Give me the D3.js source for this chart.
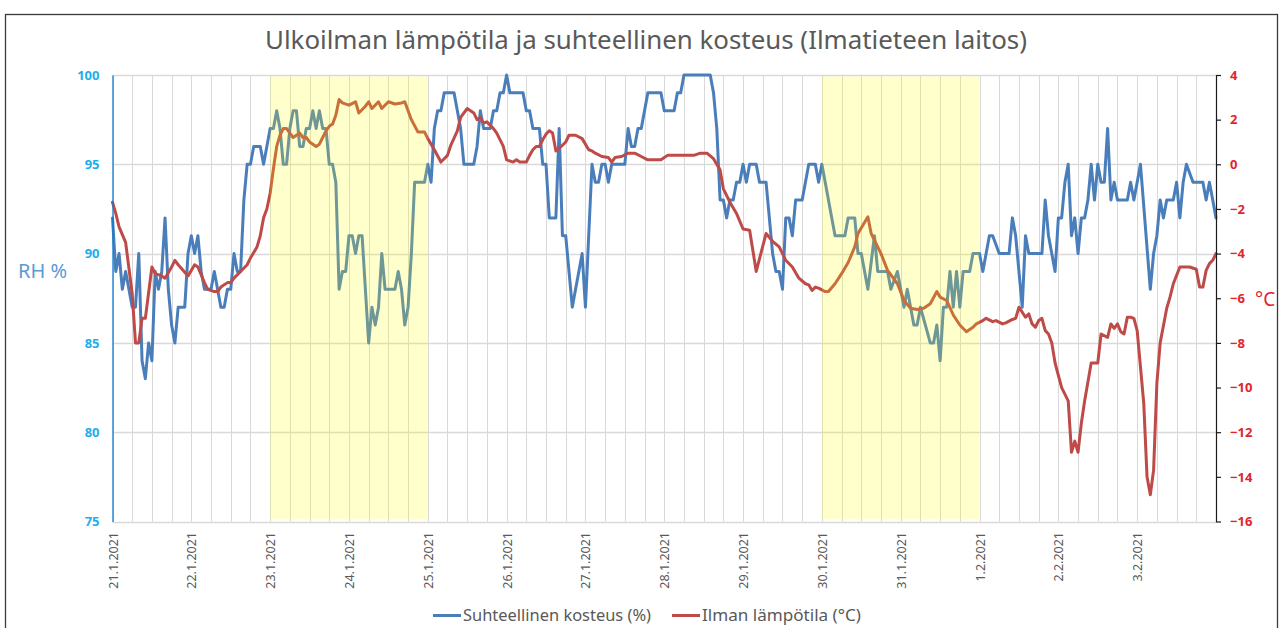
<!DOCTYPE html>
<html>
<head>
<meta charset="utf-8">
<script src="https://cdn.jsdelivr.net/npm/d3@7"></script>
<style>
  body { margin: 0; background: #fff; }
  svg { display: block; }
  text { font-family: 'Noto Sans', 'Open Sans', sans-serif; }
</style>
</head>
<body>
<svg id="chart" width="1286" height="628"></svg>
<script>
// Observation period: hourly values, hour offsets counted from 21.1.2021 00:00
const periodStart = new Date(2021, 0, 21);
const periodEnd = new Date(2021, 1, 4);

// Relative humidity (%), [hour, value]
const humidity = [
[0,92],[1,89],[2,90],[3,88],[4,89],[5,88],[6,87],[7,87],[8,90],[9,84],[10,83],[11,85],[12,84],[13,89],[14,88],[15,89],[16,92],[17,88],[18,86],[19,85],[20,87],[22,87],[23,90],[24,91],[25,90],[26,91],[27,89],[28,88],[30,88],[31,89],[32,88],[33,87],[34,87],[35,88],[36,88],[37,90],[38,89],[39,89],[40,93],[41,95],[42,95],[43,96],[45,96],[46,95],[47,96],[48,97],[49,97],[50,98],[51,97],[52,95],[53,95],[54,97],[55,98],[56,98],[57,96],[58,96],[59,97],[60,97],[61,98],[62,97],[63,98],[64,97],[65,97],[66,95],[67,95],[68,94],[69,88],[70,89],[71,89],[72,91],[73,91],[74,90],[75,91],[76,91],[77,88],[78,85],[79,87],[80,86],[81,87],[82,90],[83,88],[86,88],[87,89],[88,88],[89,86],[90,87],[91,90],[92,94],[95,94],[96,95],[97,94],[98,97],[99,98],[100,98],[101,99],[104,99],[105,98],[106,97],[107,95],[110,95],[111,96],[112,98],[113,97],[115,97],[116,98],[117,98],[118,99],[119,99],[120,100],[121,99],[125,99],[126,98],[127,98],[128,97],[130,97],[131,95],[132,95],[133,92],[135,92],[136,97],[137,91],[138,91],[140,87],[141,88],[142,89],[143,90],[144,87],[146,95],[147,94],[148,94],[149,95],[150,95],[151,94],[152,95],[156,95],[157,97],[158,96],[159,96],[160,97],[161,97],[163,99],[167,99],[168,98],[171,98],[172,99],[173,99],[174,100],[182,100],[183,99],[184,97],[185,93],[186,93],[187,92],[188,93],[189,93],[190,94],[191,94],[192,95],[193,94],[194,95],[196,95],[197,94],[198,94],[199,94],[200,92],[201,90],[202,89],[203,89],[204,88],[205,92],[206,92],[207,91],[208,93],[210,93],[212,95],[214,95],[215,94],[216,95],[220,91],[223,91],[224,92],[226,92],[227,90],[228,90],[230,88],[232,91],[233,89],[236,89],[237,88],[239,89],[241,87],[242,88],[244,86],[245,86],[246,87],[249,85],[250,85],[251,86],[252,84],[253,87],[254,87],[255,89],[256,87],[257,89],[258,87],[259,89],[261,89],[262,90],[264,90],[265,89],[267,91],[268,91],[270,90],[273,90],[274,92],[275,91],[277,87],[278,91],[279,90],[283,90],[284,93],[285,91],[287,89],[288,92],[289,92],[290,94],[291,95],[292,91],[293,92],[294,90],[295,92],[296,92],[297,93],[298,95],[299,93],[300,95],[301,94],[302,94],[303,97],[304,93],[305,94],[306,93],[309,93],[310,94],[311,93],[312,94],[313,95],[316,88],[317,90],[318,91],[319,93],[320,92],[321,93],[323,93],[324,94],[325,92],[326,94],[327,95],[329,94],[332,94],[333,93],[334,94],[335,93],[336,92]
];

// Air temperature (°C), [hour, value]
const temperature = [
[0,-1.7],[1,-2.2],[2,-2.8],[4,-3.5],[6,-5.8],[7,-8.0],[8,-8.0],[9,-6.9],[10,-6.9],[12,-4.6],[13,-4.9],[15,-5.0],[16,-5.1],[18,-4.6],[19,-4.3],[20,-4.5],[23,-5.0],[25,-4.5],[26,-4.6],[28,-5.3],[29,-5.6],[31,-5.7],[32,-5.7],[33,-5.5],[35,-5.3],[36,-5.3],[37,-5.1],[39,-4.8],[41,-4.5],[42,-4.2],[44,-3.7],[45,-3.2],[46,-2.4],[47,-2.0],[48,-1.3],[49,-0.2],[50,0.8],[51,1.3],[52,1.6],[53,1.6],[54,1.4],[55,1.2],[56,1.3],[57,1.4],[58,1.2],[59,1.2],[60,1.0],[61,0.9],[62,0.8],[63,0.9],[64,1.2],[65,1.5],[66,1.7],[67,1.8],[68,2.2],[69,2.9],[70,2.75],[72,2.65],[74,2.8],[75,2.3],[77,2.6],[78,2.8],[79,2.5],[81,2.8],[82,2.5],[84,2.8],[86,2.7],[88,2.75],[89,2.8],[91,2.0],[93,1.45],[95,1.45],[96,1.15],[98,0.65],[100,0.1],[101,0.25],[102,0.4],[103,0.85],[105,1.5],[106,2.1],[108,2.5],[109,2.4],[110,2.3],[111,2.0],[112,2.1],[113,1.85],[114,1.9],[116,1.6],[117,1.4],[119,0.8],[120,0.2],[122,0.1],[123,0.2],[124,0.1],[126,0.1],[127,0.4],[128,0.65],[129,0.8],[130,0.8],[131,1.1],[132,1.35],[133,1.5],[134,1.4],[135,0.6],[137,0.85],[138,1.0],[139,1.3],[141,1.3],[143,1.15],[145,0.65],[146,0.6],[147,0.5],[149,0.35],[151,0.3],[152,0.1],[153,0.3],[155,0.35],[157,0.5],[159,0.5],[161,0.35],[163,0.2],[167,0.2],[169,0.4],[177,0.4],[179,0.5],[181,0.5],[183,0.25],[185,-0.25],[186,-1.1],[188,-1.7],[190,-2.2],[192,-2.9],[194,-2.95],[196,-4.8],[199,-3.1],[201,-3.45],[203,-3.7],[205,-4.3],[207,-4.6],[209,-5.1],[211,-5.35],[212,-5.4],[213,-5.65],[214,-5.5],[215,-5.55],[217,-5.7],[218,-5.7],[220,-5.35],[222,-4.9],[224,-4.4],[226,-3.7],[227,-3.1],[230,-2.35],[231,-3.1],[234,-4.0],[236,-4.75],[239,-5.35],[241,-6.1],[243,-6.45],[245,-6.5],[247,-6.45],[249,-6.25],[251,-5.7],[252,-5.95],[254,-6.1],[256,-6.75],[258,-7.2],[260,-7.5],[262,-7.3],[263,-7.15],[265,-7.0],[266,-6.9],[268,-7.05],[269,-7.0],[271,-7.15],[272,-7.1],[274,-6.95],[275,-6.9],[276,-6.4],[278,-6.85],[279,-6.7],[280,-7.15],[281,-7.3],[282,-7.0],[283,-6.9],[284,-7.45],[285,-7.6],[286,-8.0],[287,-8.9],[289,-10.0],[291,-10.6],[292,-12.9],[293,-12.4],[294,-12.9],[295,-11.6],[296,-10.6],[298,-8.9],[300,-8.9],[301,-7.6],[303,-7.75],[304,-7.15],[305,-7.35],[306,-7.15],[307,-7.5],[308,-7.6],[309,-6.85],[310,-6.85],[311,-6.9],[312,-7.45],[314,-10.7],[315,-14.0],[316,-14.8],[317,-13.7],[318,-9.8],[319,-8.0],[321,-6.45],[322,-5.95],[323,-5.35],[325,-4.6],[328,-4.6],[330,-4.7],[331,-5.5],[332,-5.5],[333,-4.75],[334,-4.45],[335,-4.3],[336,-4.0]
];

// Highlighted periods (start day, end day)
const highlightPeriods = [
  [new Date(2021, 0, 23), new Date(2021, 0, 25)],
  [new Date(2021, 0, 30), new Date(2021, 1, 1)]
];

const humidityTicks = [75, 80, 85, 90, 95, 100];
const temperatureTicks = [-16, -14, -12, -10, -8, -6, -4, -2, 0, 2, 4];

const titleText = "Ulkoilman lämpötila ja suhteellinen kosteus (Ilmatieteen laitos)";
const humiditySeriesName = "Suhteellinen kosteus (%)";
const temperatureSeriesName = "Ilman lämpötila (°C)";

// ---------------------------------------------------------------
const svg = d3.select("#chart");
const plot = { left: 112.5, right: 1216, top: 75, bottom: 521.5 };
const blue = "#4a7ebb", red = "#be4b48", grid = "#d9d9d9", textGrey = "#595959";

const toTime = h => d3.timeHour.offset(periodStart, h);

const x = d3.scaleTime().domain([periodStart, periodEnd]).range([plot.left, plot.right]);
const yRH = d3.scaleLinear().domain([75, 100]).range([plot.bottom, plot.top]);
const yT = d3.scaleLinear().domain([-16, 4]).range([plot.bottom, plot.top]);

svg.append("rect").attr("width", 1286).attr("height", 628).attr("fill", "#fff");

// chart frame
svg.append("rect")
  .attr("x", 5.5).attr("y", 14.5).attr("width", 1272).attr("height", 640)
  .attr("fill", "none").attr("stroke", "#3a3a3a").attr("stroke-width", 1.3);

// title
svg.append("text")
  .attr("x", 646).attr("y", 49).attr("text-anchor", "middle")
  .attr("font-size", 25).attr("fill", textGrey)
  .attr("textLength", 762).attr("lengthAdjust", "spacingAndGlyphs")
  .text(titleText);

// gridlines
const gridG = svg.append("g");
gridG.selectAll("line.v")
  .data(d3.timeHour.every(6).range(periodStart, d3.timeHour.offset(periodEnd, 1)))
  .join("line").attr("class", "v")
  .attr("x1", d => Math.round(x(d)) + 0.5).attr("x2", d => Math.round(x(d)) + 0.5)
  .attr("y1", plot.top).attr("y2", plot.bottom)
  .attr("stroke", grid).attr("stroke-width", 1);
gridG.selectAll("line.h")
  .data(humidityTicks)
  .join("line").attr("class", "h")
  .attr("x1", plot.left).attr("x2", plot.right)
  .attr("y1", d => Math.round(yRH(d)) + 0.5).attr("y2", d => Math.round(yRH(d)) + 0.5)
  .attr("stroke", grid).attr("stroke-width", 1.3);

// series
const rhLine = d3.line().x(d => x(toTime(d[0]))).y(d => yRH(d[1]));
const tLine = d3.line().x(d => x(toTime(d[0]))).y(d => yT(d[1]));

svg.append("path").datum(humidity)
  .attr("d", rhLine).attr("fill", "none").attr("stroke", blue)
  .attr("stroke-width", 3).attr("stroke-linejoin", "round").attr("stroke-linecap", "round");
svg.append("path").datum(temperature)
  .attr("d", tLine).attr("fill", "none").attr("stroke", red)
  .attr("stroke-width", 3).attr("stroke-linejoin", "round").attr("stroke-linecap", "round");

// highlighted periods, translucent yellow over the data
svg.selectAll("rect.band").data(highlightPeriods).join("rect").attr("class", "band")
  .attr("x", d => x(d[0])).attr("width", d => x(d[1]) - x(d[0]))
  .attr("y", plot.top + 1.5).attr("height", plot.bottom - plot.top - 3.5)
  .attr("fill", "#ffff00").attr("fill-opacity", 0.2);

// left axis (humidity)
const leftAxis = svg.append("g")
  .attr("transform", `translate(${plot.left},0)`)
  .call(d3.axisLeft(yRH).tickValues(humidityTicks).tickSize(0).tickPadding(13));
leftAxis.select(".domain").attr("stroke", "#0f7ad0").attr("stroke-width", 1.3);
leftAxis.selectAll("text")
  .attr("fill", "#1eaeee").attr("font-size", 13).attr("font-weight", "bold")
  .attr("font-family", "'Noto Sans', sans-serif");

// right axis (temperature)
const rightAxis = svg.append("g")
  .attr("transform", `translate(${plot.right},0)`)
  .call(d3.axisRight(yT).tickValues(temperatureTicks).tickSize(5).tickSizeOuter(0).tickPadding(9));
rightAxis.select(".domain").attr("stroke", "#1a1a1a").attr("stroke-width", 1.2);
rightAxis.selectAll(".tick line").attr("stroke", "#1a1a1a").attr("stroke-width", 1.2);
rightAxis.selectAll("text")
  .attr("fill", "#e0262d").attr("font-size", 13).attr("font-weight", "bold")
  .attr("font-family", "'Noto Sans', sans-serif");

// bottom axis: day labels, rotated
const bottomAxis = svg.append("g")
  .attr("transform", `translate(0,${plot.bottom})`)
  .call(d3.axisBottom(x).tickValues(d3.timeDay.range(periodStart, periodEnd))
    .tickSize(0).tickFormat(d3.timeFormat("%-d.%-m.%Y")));
bottomAxis.select(".domain").remove();
bottomAxis.selectAll("text")
  .attr("x", 0).attr("y", 0).attr("dy", "0.36em")
  .attr("transform", "translate(0,10.5) rotate(-90)")
  .attr("text-anchor", "end")
  .attr("fill", textGrey).attr("font-size", 12.5)
  .attr("font-family", "'Noto Sans', sans-serif");

// axis titles
svg.append("text").attr("x", 18).attr("y", 278)
  .attr("font-size", 20).attr("fill", "#5b9bd5").text("RH %");
svg.append("text").attr("x", 1255).attr("y", 306)
  .attr("font-size", 19).attr("fill", "#e0262d").text("°C");

// legend
const legend = [
  { name: humiditySeriesName, color: blue, x: 433, width: 188 },
  { name: temperatureSeriesName, color: red, x: 672, width: 159 }
];
const lg = svg.append("g");
legend.forEach(l => {
  lg.append("line").attr("x1", l.x).attr("x2", l.x + 28).attr("y1", 615.5).attr("y2", 615.5)
    .attr("stroke", l.color).attr("stroke-width", 3);
  lg.append("text").attr("x", l.x + 30).attr("y", 621)
    .attr("font-size", 16).attr("fill", textGrey)
    .attr("textLength", l.width).attr("lengthAdjust", "spacingAndGlyphs")
    .text(l.name);
});
</script>
</body>
</html>
